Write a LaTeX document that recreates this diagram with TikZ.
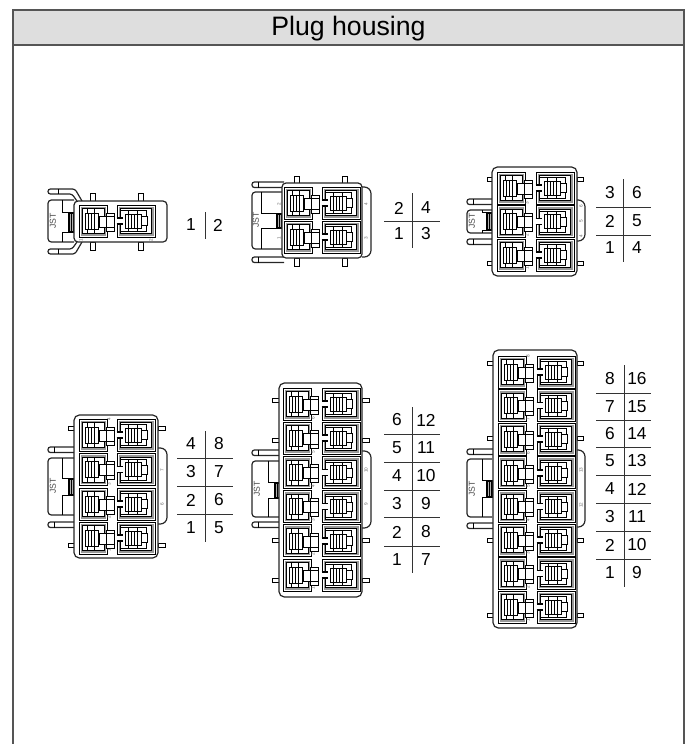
\documentclass[tikz,border=0pt]{standalone}
\usepackage{fontspec}
\setmainfont{Liberation Sans}
\definecolor{headfill}{HTML}{DEDEDE}
\definecolor{framegray}{HTML}{555555}
\tikzset{
  part/.style={draw=black,line width=0.7pt},
  thinpart/.style={draw=black,line width=0.45pt},
  shell/.style={draw=black!85,line width=0.9pt,fill=white},
  digit/.style={font=\fontsize{13}{14}\selectfont,inner sep=0pt},
  rule/.style={draw=black!80,line width=0.7pt},
  tiny/.style={font=\fontsize{3.5}{4}\selectfont,text=black!60,inner sep=0pt,rotate=90},
  jst/.style={font=\fontsize{6.5}{7}\selectfont,text=black!70,inner sep=0pt,rotate=90},
  pics/leftcell/.style={code={
    \draw[part] (0,0) rectangle (28,32);
    \fill[black!40] (1.5,1.5) rectangle (26.5,30.5);
    \draw[thinpart,fill=white] (3.5,3.5) rectangle (25,28.5);
    \draw[thinpart] (8,3.5) -- (8,8) (15,3.5) -- (15,8) (8,24) -- (8,28.5) (15,24) -- (15,28.5);
    \draw[thinpart,fill=white] (6,8) rectangle (19,24);
    \draw[thinpart] (9,8) -- (9,24) (12,8) -- (12,24) (15,8) -- (15,24);
    \draw[thinpart,fill=white] (27,8) rectangle (35,26);
    \draw[thinpart,fill=white] (20,11) rectangle (27,22);
    \draw[thinpart] (27,11) -- (35,11) (27,22) -- (35,22);
  }},
  pics/rightcell/.style={code={
    \draw[part] (0,0) rectangle (38,32);
    \fill[black!40] (1.5,1.5) rectangle (36.5,30.5);
    \draw[thinpart,fill=white] (3.5,3.5) rectangle (34.5,28.5);
    \draw[thinpart] (3.5,5.5) -- (29,5.5) -- (29,26.5) -- (3.5,26.5);
    \draw[thinpart] (11,5.5) -- (11,9) (20,5.5) -- (20,9) (11,23) -- (11,26.5) (20,23) -- (20,26.5);
    \draw[thinpart,fill=white] (8,9) rectangle (24,23);
    \draw[thinpart] (11,9) -- (11,23) (14,9) -- (14,23) (17,9) -- (17,23) (20,9) -- (20,23);
    \draw[thinpart,fill=white] (24,11.5) rectangle (30,20.5);
    \fill[white] (-0.5,13) rectangle (4,19);
    \draw[line width=1.1pt] (-0.5,13) -- (6,13) (-0.5,19) -- (6,19);
  }},
}
% handle of the latch, xl = free end, xb = housing side, yt = upper edge
\newcommand{\handlebar}[3]{%
  \draw[shell,rounded corners=1.8pt] (#2,#3) -- (#1,#3) -- (#1,#3+5.5) -- (#2,#3+5.5);
  \draw[thinpart] (#1+6,#3) -- (#1+6,#3+5.5);
}
% pin on the housing side
\newcommand{\sidepin}[3]{\draw[thinpart,fill=white,line width=0.6pt] (#1,#2) rectangle (#1+#3,#2+4.5);}
\newcommand{\toppin}[3]{\draw[thinpart,fill=white,line width=0.6pt] (#1,#2) rectangle (#1+5,#2+#3);}
% latch box, x1 = left, x2 = inner line, x3 = housing, clip from y3 to y4
\newcommand{\latchbox}[8]{%
  \draw[shell,rounded corners=2.5pt] (#3,#4) -- (#1,#4) -- (#1,#5) -- (#3,#5);
  \draw[thinpart] (#2,#4) -- (#2,#5);
  \draw[thinpart,fill=white] (#2,#6) -- (#3,#6) -- (#3,#7) -- (#2,#7);
  \fill[black!30] (#3-6,#6+1) rectangle (#3-1,#7-1);
  \draw[thinpart] (#3-6,#6+1) rectangle (#3-1,#7-1);
  \draw[thinpart] (#3-4.5,#6+1) -- (#3-4.5,#7-1) (#3-2.5,#6+1) -- (#3-2.5,#7-1);
  \node[jst] at (#8) {JST};
}
\begin{document}
\begin{tikzpicture}[x=0.75pt,y=-0.75pt]
\useasboundingbox (0,0) rectangle (691,744);
% frame and head
\fill[headfill] (13,10) rectangle (684,45);
\draw[framegray,line width=1pt] (13,744) -- (13,10) -- (684,10) -- (684,744);
\draw[framegray,line width=1pt] (13,45) -- (684,45);
\node[font=\fontsize{20}{21}\selectfont,inner sep=0pt] (title) at (348.5,29) {Plug housing};

% 2 way
\foreach \px in {90,138} {\toppin{\px}{193}{8} \toppin{\px}{242}{8}}
\draw[shell,rounded corners=1.8pt] (82,201) -- (75,189) -- (48,189) -- (48,194) -- (72,194) -- (77,201);
\draw[shell,rounded corners=1.8pt] (82,242) -- (75,254) -- (48,254) -- (48,249) -- (72,249) -- (77,242);
\draw[thinpart] (58,189) -- (58,194) (58,249) -- (58,254);
\latchbox{48}{62}{74}{200}{242}{212}{232}{53,221}
\draw[shell,rounded corners=3pt] (74,201) rectangle (167,242);
\pic at (79,205) {leftcell};
\pic at (117,205) {rightcell};
\node[tiny] at (81,240) {1};
\node[tiny] at (151,240) {2};
\node[digit] (w2a) at (191,225) {1};
\node[digit] (w2b) at (218,225) {2};
\draw[rule] (205,212) -- (205,239);

% 4 way
\foreach \px in {294,342} {\toppin{\px}{176}{7} \toppin{\px}{258}{8}}
\handlebar{252}{284}{182}
\handlebar{252}{284}{257}
\latchbox{252}{261}{282}{192}{249}{213}{228}{256,220}
\draw[shell,rounded corners=5pt] (362,187) -- (371,187) -- (371,257) -- (362,257);
\draw[shell,rounded corners=3pt] (282,183) rectangle (362,258);
\foreach \ry in {187,221} {
  \pic at (284,\ry) {leftcell};
  \pic at (322,\ry) {rightcell};
}
\node[tiny] at (279,204) {2};
\node[tiny] at (279,238) {1};
\node[tiny] at (366,204) {4};
\node[tiny] at (366,238) {3};
\foreach \ry/\lft/\rgt in {208/2/4,234/1/3} {
  \node[digit] (w4a\lft) at (399,\ry) {\lft};
  \node[digit] (w4b\rgt) at (426,\ry) {\rgt};
}
\draw[rule] (412,193) -- (412,248);
\draw[rule] (384,221) -- (440,221);

% 6 way
\foreach \py in {177,261} {\sidepin{487}{\py}{5} \sidepin{577}{\py}{6}}
\handlebar{467}{493}{199}
\handlebar{467}{493}{239}
\latchbox{467}{482}{492}{210}{233}{212}{230}{472,221}
\draw[shell,rounded corners=5pt] (577,200) -- (585,200) -- (585,241) -- (577,241);
\draw[shell,rounded corners=4pt] (492,167) rectangle (577,276);
\foreach \ry in {172,205.5,239} {
  \pic at (497,\ry) {leftcell};
  \pic at (536,\ry) {rightcell};
}
\foreach \ry/\lft/\rgt in {203/3/6,235/2/5,268/1/4} {
  \node[tiny] at (527,\ry) {\lft};
}
\foreach \ry/\rgt in {206/6,221/5,236/4} {\node[tiny] at (581,\ry) {\rgt};}
\foreach \ry/\lft/\rgt in {193/3/6,221/2/5,248/1/4} {
  \node[digit] (w6a\lft) at (610,\ry) {\lft};
  \node[digit] (w6b\rgt) at (637,\ry) {\rgt};
}
\draw[rule] (623,179) -- (623,262);
\foreach \ly in {207,235} {\draw[rule] (596,\ly) -- (651,\ly);}

% 8 way
\foreach \py in {426,543} {\sidepin{68}{\py}{6} \sidepin{158}{\py}{7}}
\handlebar{48}{74}{447}
\handlebar{48}{74}{522}
\latchbox{48}{62}{74}{458}{515}{478}{495}{53,486}
\draw[shell,rounded corners=5pt] (158,448) -- (167,448) -- (167,524) -- (158,524);
\draw[shell,rounded corners=4pt] (74,415) rectangle (158,558);
\foreach \ry in {419,453.5,488,522} {
  \pic at (79,\ry) {leftcell};
  \pic at (117,\ry) {rightcell};
}
\foreach \ry/\lft in {419/4,484/3,517/2,550/1} {\node[tiny] at (109,\ry) {\lft};}
\foreach \ry/\rgt in {470/7,504/6} {\node[tiny] at (162,\ry) {\rgt};}
\foreach \ry/\lft/\rgt in {444/4/8,472/3/7,500/2/6,528/1/5} {
  \node[digit] (w8a\lft) at (191,\ry) {\lft};
  \node[digit] (w8b\rgt) at (219,\ry) {\rgt};
}
\draw[rule] (205,431) -- (205,542);
\foreach \ly in {458,486,514} {\draw[rule] (177,\ly) -- (233,\ly);}

% 12 way
\foreach \py in {398,438,538,578} {\sidepin{272}{\py}{7} \sidepin{362}{\py}{7}}
\handlebar{252}{280}{450}
\handlebar{252}{280}{522}
\latchbox{252}{268}{280}{461}{517}{482}{498}{257,489}
\draw[shell,rounded corners=5pt] (362,451) -- (371,451) -- (371,528) -- (362,528);
\draw[shell,rounded corners=4pt] (279,383) rectangle (362,597);
\foreach \ry in {388,422.2,456.4,490.6,524.8,559} {
  \pic at (283,\ry) {leftcell};
  \pic at (322,\ry) {rightcell};
}
\foreach \ry/\lft in {418/6,452/5,486/4,520/3,554/2,588/1} {\node[tiny] at (313,\ry) {\lft};}
\foreach \ry/\rgt in {470/10,504/9} {\node[tiny] at (366,\ry) {\rgt};}
\foreach \ry/\lft/\rgt in {420/6/12,448/5/11,476/4/10,504/3/9,532/2/8,560/1/7} {
  \node[digit] (w12a\lft) at (397,\ry) {\lft};
  \node[digit] (w12b\rgt) at (426,\ry) {\rgt};
}
\draw[rule] (412,407) -- (412,573);
\foreach \ly in {434,462,490,517,546} {\draw[rule] (384,\ly) -- (440,\ly);}

% 16 way
\foreach \py in {361,436,538,613} {\sidepin{487}{\py}{6} \sidepin{577}{\py}{6}}
\handlebar{467}{493}{449}
\handlebar{467}{493}{523}
\latchbox{467}{482}{492}{459}{517}{480}{497}{472,489}
\draw[shell,rounded corners=5pt] (577,450) -- (585,450) -- (585,527) -- (577,527);
\draw[shell,rounded corners=4pt] (493,350) rectangle (577,628);
\foreach \ry in {356,389.6,423.2,456.8,490.4,524,557.6,591.2} {
  \pic at (498,\ry) {leftcell};
  \pic at (537,\ry) {rightcell};
}
\foreach \ry/\lft in {356/8,419/7,453/6,486/5,520/4,553/3,587/2,620/1} {\node[tiny] at (528,\ry) {\lft};}
\foreach \ry/\rgt in {470/13,505/12} {\node[tiny] at (581,\ry) {\rgt};}
\foreach \ry/\lft/\rgt in {379/8/16,407/7/15,434/6/14,461/5/13,489/4/12,517/3/11,545/2/10,573/1/9} {
  \node[digit] (w16a\lft) at (610,\ry) {\lft};
  \node[digit] (w16b\rgt) at (637,\ry) {\rgt};
}
\draw[rule] (624,365) -- (624,587);
\foreach \ly in {393,420,447,475,503,531,559} {\draw[rule] (596,\ly) -- (651,\ly);}
\end{tikzpicture}
\end{document}
